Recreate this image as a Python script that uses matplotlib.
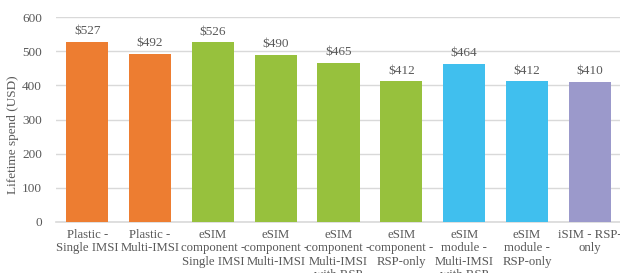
import matplotlib.pyplot as plt

# chart data
categories = ["Plastic -\nSingle IMSI", "Plastic -\nMulti-IMSI",
              "eSIM\ncomponent -\nSingle IMSI", "eSIM\ncomponent -\nMulti-IMSI",
              "eSIM\ncomponent -\nMulti-IMSI\nwith RSP", "eSIM\ncomponent -\nRSP-only",
              "eSIM\nmodule -\nMulti-IMSI\nwith RSP", "eSIM\nmodule -\nRSP-only",
              "iSIM - RSP-\nonly"]
spend = [527, 492, 526, 490, 465, 412, 464, 412, 410]
colors = ["#ED7D31", "#ED7D31", "#97C13D", "#97C13D", "#97C13D", "#97C13D",
          "#40BFEE", "#40BFEE", "#9B99CB"]

plt.rcParams['font.family'] = ['Liberation Serif', 'DejaVu Serif']
txt = "#595959"

fig = plt.figure(figsize=(6.2, 2.73), dpi=100)
ax = fig.add_axes([0.09, 0.187, 0.912, 0.75])

x = range(len(spend))
bars = ax.bar(x, spend, width=0.67, color=colors, zorder=3)
for b, v in zip(bars, spend):
    ax.text(b.get_x() + b.get_width() / 2, v + 14, f"${v}", ha="center", va="bottom",
            fontsize=9.5, color=txt)

ax.set_ylim(0, 600)
ax.set_xlim(-0.5, len(spend) - 0.5)
ax.set_yticks(range(0, 601, 100))
ax.yaxis.grid(True, color="#D9D9D9", linewidth=1, zorder=0)
ax.set_xticks(list(x))
ax.set_xticklabels(categories, fontsize=9.2, color=txt, linespacing=1.15)
ax.tick_params(axis="y", labelsize=9.5, colors=txt, length=0, pad=10)
ax.tick_params(axis="x", length=0, pad=5)
for s in ["top", "right", "left"]:
    ax.spines[s].set_visible(False)
ax.spines["bottom"].set_color("#D9D9D9")
ax.spines["bottom"].set_linewidth(1.2)
fig.text(0.021, 0.505, "Lifetime spend (USD)", rotation=90, ha="center", va="center",
         fontsize=9.5, color=txt)

fig.savefig("out.png", dpi=100)
